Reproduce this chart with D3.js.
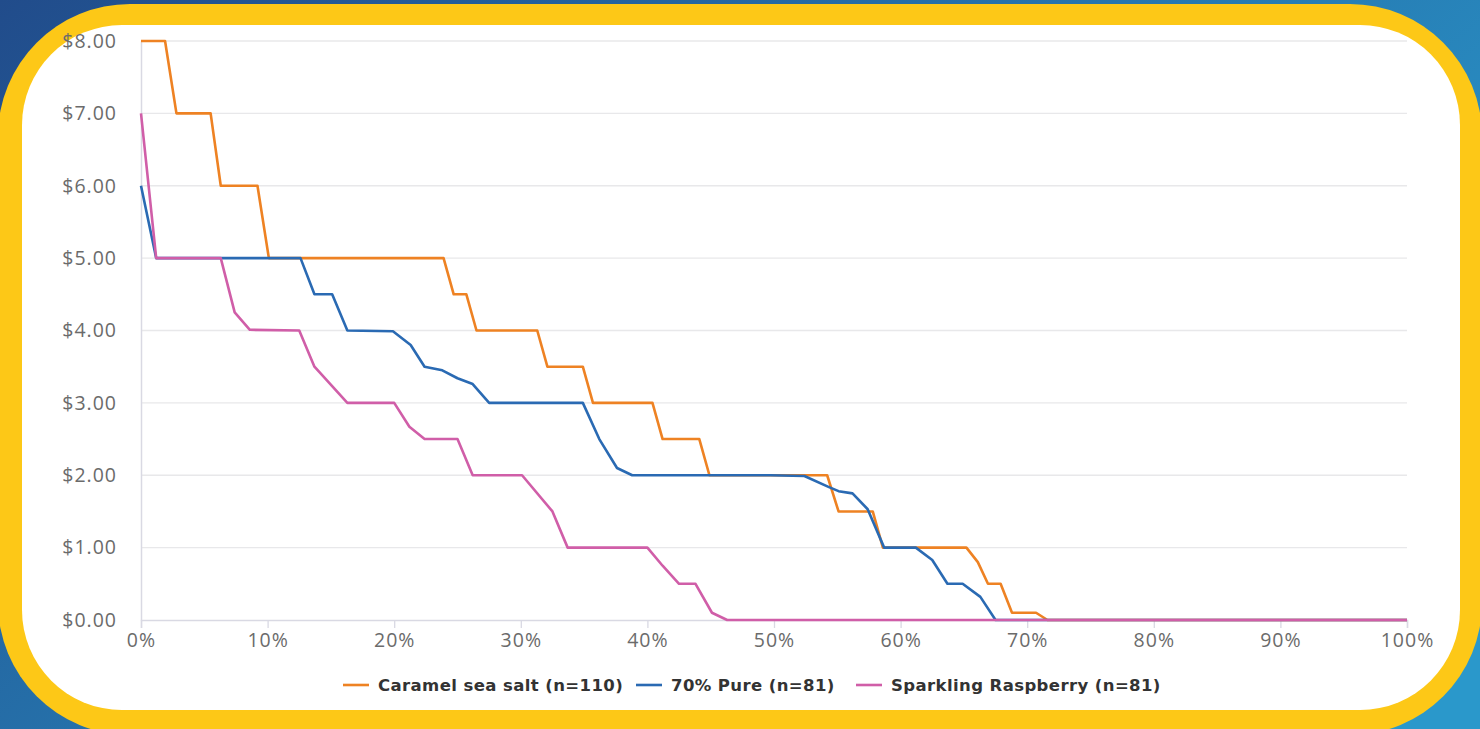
<!DOCTYPE html>
<html>
<head>
<meta charset="utf-8">
<script src="https://cdn.jsdelivr.net/npm/d3@7"></script>
<style>
  html, body { margin: 0; padding: 0; background: #fff; }
  svg { display: block; }
</style>
</head>
<body>
<svg id="chart" width="1480" height="729"></svg>
<script>
// Price thresholds (y) against share of respondents (x, percent)
const seriesNames = ["Caramel sea salt (n=110)", "70% Pure (n=81)", "Sparkling Raspberry (n=81)"];
const seriesColors = ["#ee8223", "#2a6ab3", "#d05ea8"];

const caramelPct   = [0, 1.9, 2.8, 5.5, 6.3, 9.2, 10.1, 23.9, 24.7, 25.7, 26.5, 31.3, 32.1, 34.9, 35.7, 40.4, 41.2, 44.1, 44.9, 54.2, 55.1, 57.8, 58.6, 65.2, 66.1, 66.9, 67.9, 68.8, 70.7, 71.6, 100];
const caramelPrice = [8, 8, 7, 7, 6, 6, 5, 5, 4.5, 4.5, 4, 4, 3.5, 3.5, 3, 3, 2.5, 2.5, 2, 2, 1.5, 1.5, 1, 1, 0.8, 0.5, 0.5, 0.1, 0.1, 0, 0];

const purePct   = [0, 1.2, 12.6, 13.7, 15.1, 16.3, 19.9, 21.3, 22.4, 23.8, 25.0, 26.2, 27.5, 34.9, 36.2, 37.6, 38.8, 49.7, 52.4, 54.3, 55.1, 56.2, 57.4, 58.7, 61.2, 62.5, 63.7, 64.9, 66.3, 67.5, 100];
const purePrice = [6, 5, 5, 4.5, 4.5, 4, 3.99, 3.8, 3.5, 3.45, 3.34, 3.26, 3, 3, 2.5, 2.1, 2, 2, 1.99, 1.84, 1.78, 1.75, 1.53, 1, 1, 0.83, 0.5, 0.5, 0.32, 0, 0];

const raspPct   = [0, 1.2, 6.3, 7.4, 8.6, 12.5, 13.7, 16.3, 20.0, 21.2, 22.4, 25.0, 26.2, 30.1, 32.5, 33.7, 40.0, 41.2, 42.5, 43.8, 45.1, 46.3, 100];
const raspPrice = [7, 5, 5, 4.25, 4.01, 4, 3.5, 3, 3, 2.67, 2.5, 2.5, 2, 2, 1.5, 1, 1, 0.75, 0.5, 0.5, 0.1, 0, 0];

const yTicks = [0, 1, 2, 3, 4, 5, 6, 7, 8];
const xTicks = [0, 10, 20, 30, 40, 50, 60, 70, 80, 90, 100];

const W = 1480, H = 729;
const svg = d3.select("#chart");

// Backdrop: blue gradient, yellow rounded frame, white card
const defs = svg.append("defs");
const grad = defs.append("linearGradient").attr("id", "bg")
  .attr("x1", "0%").attr("y1", "0%").attr("x2", "100%").attr("y2", "60%");
grad.append("stop").attr("offset", "0%").attr("stop-color", "#214c8b");
grad.append("stop").attr("offset", "100%").attr("stop-color", "#2a98cb");
svg.append("rect").attr("width", W).attr("height", H).attr("fill", "url(#bg)");
svg.append("rect").attr("x", -2).attr("y", 4).attr("width", 1484).attr("height", 731)
  .attr("rx", 132).attr("ry", 132).attr("fill", "#fdc817");
svg.append("rect").attr("x", 22).attr("y", 25).attr("width", 1438).attr("height", 685)
  .attr("rx", 100).attr("ry", 100).attr("fill", "#ffffff");

// Plot area
const x = d3.scaleLinear().domain([0, 100]).range([141, 1407]);
const y = d3.scaleLinear().domain([0, 8]).range([620, 41]);

const font = "'Open Sans', 'Noto Sans', sans-serif";
const legendFont = "'DejaVu Sans', 'Open Sans', sans-serif";

// Horizontal gridlines
svg.append("g")
  .selectAll("line").data(yTicks.filter(d => d > 0)).join("line")
  .attr("x1", x(0)).attr("x2", x(100))
  .attr("y1", d => y(d)).attr("y2", d => y(d))
  .attr("stroke", "#e8e8ea").attr("stroke-width", 1.3);

// Y axis
const yAxis = svg.append("g").attr("transform", `translate(${x(0)},0)`)
  .call(d3.axisLeft(y).tickValues(yTicks).tickSize(0).tickPadding(24)
    .tickFormat(d => "$" + d3.format(".2f")(d)));
yAxis.select(".domain").attr("stroke", "#d9d9e3").attr("stroke-width", 1.5);
yAxis.selectAll("text").attr("fill", "#6b6b6b").style("font-family", font)
  .style("font-size", "19.5px").style("letter-spacing", "1px");

// X axis
const xAxis = svg.append("g").attr("transform", `translate(0,${y(0)})`)
  .call(d3.axisBottom(x).tickValues(xTicks).tickSize(8).tickPadding(5)
    .tickFormat(d => d + "%"));
xAxis.select(".domain").attr("stroke", "#d9d9e3").attr("stroke-width", 1.5);
xAxis.selectAll(".tick line").attr("stroke", "#d9d9e3").attr("stroke-width", 1.3);
xAxis.selectAll("text").attr("fill", "#6b6b6b").style("font-family", font)
  .style("font-size", "19.5px").style("letter-spacing", "1px");

// Lines
const series = [
  { name: seriesNames[0], color: seriesColors[0], pct: caramelPct, price: caramelPrice },
  { name: seriesNames[1], color: seriesColors[1], pct: purePct, price: purePrice },
  { name: seriesNames[2], color: seriesColors[2], pct: raspPct, price: raspPrice }
];
const line = d3.line().x(d => x(d[0])).y(d => y(d[1]));
svg.append("g").selectAll("path").data(series).join("path")
  .attr("d", s => line(s.pct.map((p, i) => [p, s.price[i]])))
  .attr("fill", "none").attr("stroke", s => s.color)
  .attr("stroke-width", 2.6).attr("stroke-linejoin", "round");

// Legend
const legendX = [343, 636, 856];
const lg = svg.append("g").selectAll("g").data(series).join("g")
  .attr("transform", (s, i) => `translate(${legendX[i]},685)`);
lg.append("line").attr("x1", 0).attr("x2", 26).attr("y1", 0).attr("y2", 0)
  .attr("stroke", s => s.color).attr("stroke-width", 2.6);
lg.append("text").attr("x", 35).attr("dy", "0.36em")
  .text(s => s.name)
  .attr("fill", "#333333").style("font-family", legendFont).style("font-weight", "700")
  .style("font-size", "16.5px").style("letter-spacing", "0.4px");
</script>
</body>
</html>
